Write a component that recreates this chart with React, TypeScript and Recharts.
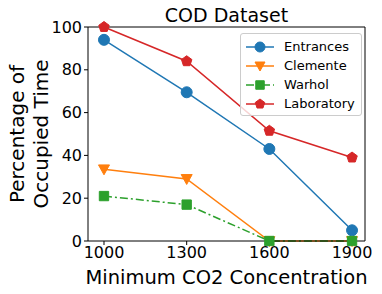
import { LineChart, Line, XAxis, YAxis, ReferenceLine } from "recharts";

const co2Levels = [1000, 1300, 1600, 1900];
const entrances = [94, 69.5, 43, 5];
const clemente = [33.5, 29, 0, 0];
const warhol = [21, 17, 0, 0];
const laboratory = [100, 84, 51.5, 39];
const yTicks = [0, 20, 40, 60, 80, 100];
const xDomain = [942, 1947];

const FONT = "DejaVu Sans, sans-serif";

const data = co2Levels.map((c, i) => ({
  co2: c,
  entrances: entrances[i],
  clemente: clemente[i],
  warhol: warhol[i],
  laboratory: laboratory[i],
}));

type Shape = "circle" | "triangle" | "square" | "pentagon";

function markerPath(shape: Shape, cx: number, cy: number, s: number) {
  if (shape === "triangle") {
    return `M${cx - s},${cy - s * 0.8} L${cx + s},${cy - s * 0.8} L${cx},${cy + s} Z`;
  }
  if (shape === "square") {
    const h = s * 0.85;
    return `M${cx - h},${cy - h} h${2 * h} v${2 * h} h${-2 * h} Z`;
  }
  const pts: string[] = [];
  for (let k = 0; k < 5; k++) {
    const a = -Math.PI / 2 + (k * 2 * Math.PI) / 5;
    pts.push(`${cx + s * Math.cos(a)},${cy + s * Math.sin(a)}`);
  }
  return `M${pts.join(" L")} Z`;
}

function Marker({ shape, cx, cy, color, s = 5.5 }: { shape: Shape; cx: number; cy: number; color: string; s?: number }) {
  if (shape === "circle") return <circle cx={cx} cy={cy} r={s} fill={color} stroke={color} />;
  return <path d={markerPath(shape, cx, cy, s)} fill={color} stroke={color} />;
}

const dotFor = (shape: Shape, color: string) => (p: any) =>
  <Marker key={`${shape}-${p.index}`} shape={shape} cx={p.cx} cy={p.cy} color={color} />;

const series = [
  { key: "entrances", name: "Entrances", color: "#1f77b4", shape: "circle" as Shape, dash: undefined },
  { key: "clemente", name: "Clemente", color: "#ff7f0e", shape: "triangle" as Shape, dash: undefined },
  { key: "warhol", name: "Warhol", color: "#2ca02c", shape: "square" as Shape, dash: "8 3 2 3" },
  { key: "laboratory", name: "Laboratory", color: "#d62728", shape: "pentagon" as Shape, dash: undefined },
];

function LegendBox() {
  return (
    <div
      style={{
        position: "absolute",
        left: 240,
        top: 33,
        border: "1px solid #cccccc",
        borderRadius: 3,
        background: "rgba(255,255,255,0.8)",
        padding: "3px 6px 2px 4px",
        fontFamily: FONT,
        fontSize: 13,
        color: "#000",
      }}
    >
      {series.map((s) => (
        <div key={s.key} style={{ display: "flex", alignItems: "center", height: 19 }}>
          <svg width={30} height={14} style={{ marginRight: 9 }}>
            <line x1={1} y1={7} x2={29} y2={7} stroke={s.color} strokeWidth={1.5} strokeDasharray={s.dash} />
            <Marker shape={s.shape} cx={15} cy={7} color={s.color} s={5} />
          </svg>
          <span>{s.name}</span>
        </div>
      ))}
    </div>
  );
}

function YLabel({ viewBox }: any) {
  const cy = viewBox.y + viewBox.height / 2;
  return (
    <g fontFamily={FONT} fontSize={20} fill="#000" textAnchor="middle">
      <text transform={`translate(17,${cy}) rotate(-90)`} dominantBaseline="central">Percentage of</text>
      <text transform={`translate(41,${cy}) rotate(-90)`} dominantBaseline="central">Occupied Time</text>
    </g>
  );
}

export default function App() {
  return (
    <div style={{ position: "fixed", left: 0, top: 0, width: 382, height: 294, background: "#fff" }}>
      <LineChart width={382} height={294} data={data} margin={{ top: 27, right: 17, bottom: 0, left: 0 }}>
        <XAxis
          dataKey="co2"
          type="number"
          domain={xDomain}
          ticks={co2Levels}
          height={53}
          stroke="#000"
          tickLine={{ stroke: "#000" }}
          tickSize={4}
          tick={{ fill: "#000", fontSize: 16, fontFamily: FONT }}
          label={{ value: "Minimum CO2 Concentration", position: "insideBottom", offset: 10, fill: "#000", fontSize: 19.5, fontFamily: FONT }}
        />
        <YAxis
          type="number"
          domain={[0, 100]}
          ticks={yTicks}
          width={88}
          stroke="#000"
          tickSize={4}
          tick={{ fill: "#000", fontSize: 16, fontFamily: FONT }}
          label={<YLabel />}
        />
        <ReferenceLine
          y={100}
          stroke="#000"
          label={{ value: "COD Dataset", position: "top", offset: 5, fill: "#000", fontSize: 19, fontFamily: FONT }}
        />
        <ReferenceLine x={xDomain[1]} stroke="#000" />
        {series.map((s) => (
          <Line
            key={s.key}
            dataKey={s.key}
            name={s.name}
            stroke={s.color}
            strokeWidth={1.5}
            strokeDasharray={s.dash}
            dot={dotFor(s.shape, s.color)}
            isAnimationActive={false}
          />
        ))}
      </LineChart>
      <LegendBox />
    </div>
  );
}
